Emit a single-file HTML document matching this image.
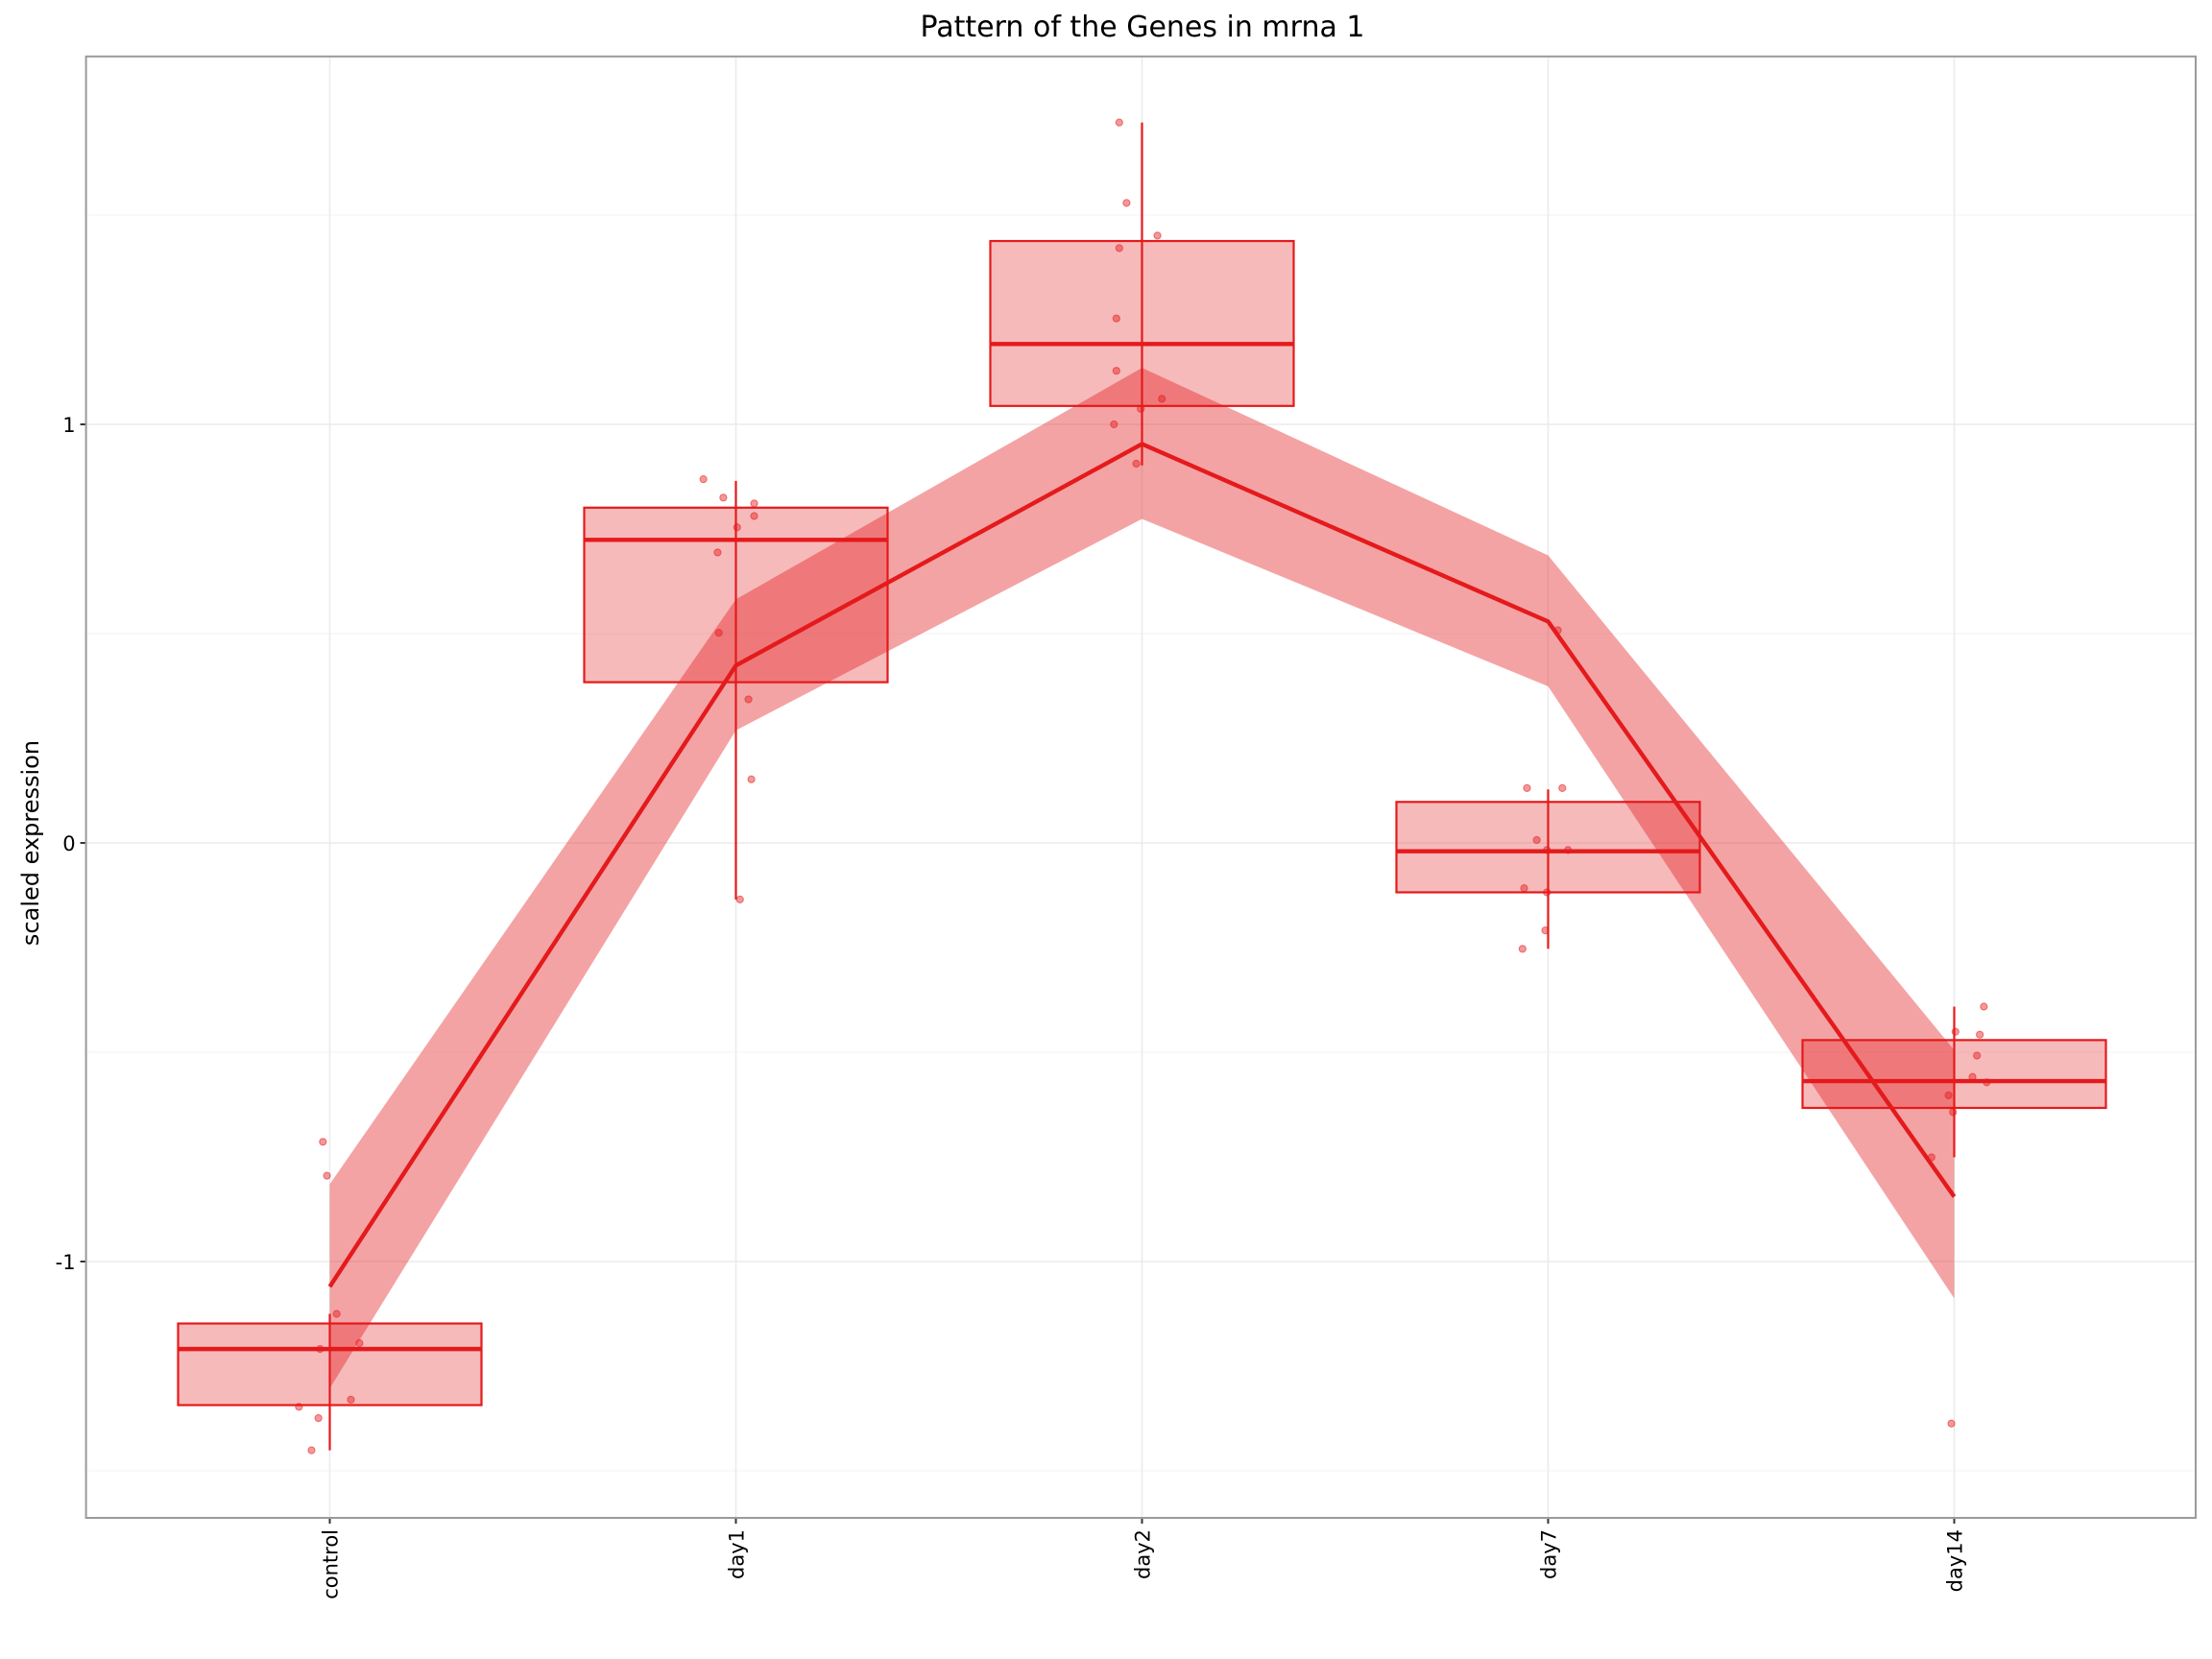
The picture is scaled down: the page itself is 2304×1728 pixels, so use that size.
<!DOCTYPE html>
<html><head><meta charset="utf-8"><style>
html,body{margin:0;padding:0;background:#fff;}
svg{display:block;font-family:"DejaVu Sans","Liberation Sans",sans-serif;}
</style></head><body>
<svg id="chart" width="2304" height="1728" viewBox="0 0 2304 1728" xmlns="http://www.w3.org/2000/svg">
<rect x="0" y="0" width="2304" height="1728" fill="#fff"/>
<text x="1190" y="38" font-size="30" text-anchor="middle" fill="#000">Pattern of the Genes in mrna 1</text>
<text transform="translate(40,878) rotate(-90)" font-size="24" text-anchor="middle" fill="#000">scaled expression</text>
<g id="grid"></g><g id="marks"></g><g id="axes"></g>
<rect x="89.6" y="58.8" width="2197.4" height="1522.2" fill="none" stroke="#9a9a9a" stroke-width="2"/>
</svg>
<script>
const categories=["control","day1","day2","day7","day14"];
const boxQ1=[-1.343,0.384,1.044,-0.118,-0.633];
const boxMedian=[-1.209,0.724,1.192,-0.020,-0.569];
const boxQ3=[-1.148,0.801,1.438,0.098,-0.471];
const whiskerLow=[-1.451,-0.135,0.902,-0.253,-0.751];
const whiskerHigh=[-1.125,0.865,1.721,0.128,-0.391];
const trendMean=[-1.06,0.424,0.953,0.529,-0.845];
const trendUpper=[-0.815,0.582,1.135,0.687,-0.495];
const trendLower=[-1.303,0.269,0.774,0.374,-1.088];
const pointValues=[
[-0.714,-0.795,-1.125,-1.209,-1.195,-1.33,-1.347,-1.374,-1.451],
[0.869,0.825,0.811,0.754,0.781,0.694,0.502,0.343,0.152,-0.135],
[1.721,1.529,1.451,1.421,1.253,1.128,1.037,1.061,1.0,0.906],
[0.131,0.131,0.508,0.007,-0.017,-0.017,-0.108,-0.118,-0.209,-0.253],
[-0.391,-0.451,-0.458,-0.508,-0.559,-0.572,-0.603,-0.643,-0.751,-1.387]];
const pointJitter=[
[-0.017,-0.007,0.017,-0.024,0.073,0.052,-0.076,-0.028,-0.045],
[-0.08,-0.031,0.045,0.003,0.045,-0.045,-0.042,0.031,0.038,0.01],
[-0.056,-0.038,0.038,-0.056,-0.063,-0.063,-0.003,0.049,-0.069,-0.014],
[-0.052,0.035,0.024,-0.028,-0.003,0.049,-0.059,-0.003,-0.007,-0.063],
[0.073,0.003,0.063,0.056,0.045,0.08,-0.014,-0.003,-0.056,-0.007]];
const yTicks=[-1,0,1];
const yMinor=[-1.5,-0.5,0.5,1.5];

const NS="http://www.w3.org/2000/svg";
const RED="#E41A1C";
const X0=343.5,XSTEP=423;
function xs(i){return X0+i*XSTEP;}
function ys(v){return 878-v*436;}
function mk(parent,tag,attrs){const e=document.createElementNS(NS,tag);for(const k in attrs)e.setAttribute(k,attrs[k]);parent.appendChild(e);return e;}
const grid=document.getElementById('grid'),marks=document.getElementById('marks'),axes=document.getElementById('axes');
const PL=89.6,PR=2287,PT=58.8,PB=1581;

yMinor.forEach(v=>{const l=mk(grid,'line',{x1:PL,x2:PR,y1:ys(v),y2:ys(v),stroke:'#f5f5f5','stroke-width':1.2});

});
yTicks.forEach(v=>{const l=mk(grid,'line',{x1:PL,x2:PR,y1:ys(v),y2:ys(v),stroke:'#ebebeb','stroke-width':1.6});


const t=mk(axes,'line',{x1:PL-6,x2:PL,y1:ys(v),y2:ys(v),stroke:'#333','stroke-width':2});


const tx=mk(axes,'text',{x:PL-11,y:ys(v)+8,'font-size':21,'text-anchor':'end',fill:'#000'});tx.textContent=String(v);

});
categories.forEach((c,i)=>{const l=mk(grid,'line',{x1:xs(i),x2:xs(i),y1:PT,y2:PB,stroke:'#ebebeb','stroke-width':1.6});


const t=mk(axes,'line',{x1:xs(i),x2:xs(i),y1:PB,y2:PB+6,stroke:'#333','stroke-width':2});


const tx=mk(axes,'text',{transform:`translate(${xs(i)+8},${PB+12}) rotate(-90)`,'font-size':21,'text-anchor':'end',fill:'#000'});tx.textContent=c;

});

const HW=158;
categories.forEach((c,i)=>{const x=xs(i);
const w=mk(marks,'line',{x1:x,x2:x,y1:ys(whiskerLow[i]),y2:ys(whiskerHigh[i]),stroke:RED,'stroke-width':2.2});


const b=mk(marks,'rect',{x:x-HW,y:ys(boxQ3[i]),width:2*HW,height:ys(boxQ1[i])-ys(boxQ3[i]),fill:'rgba(228,26,28,0.3)',stroke:RED,'stroke-width':2.2});


const m=mk(marks,'line',{x1:x-HW,x2:x+HW,y1:ys(boxMedian[i]),y2:ys(boxMedian[i]),stroke:RED,'stroke-width':4.4});

});

let up=categories.map((c,i)=>xs(i)+','+ys(trendUpper[i]));
let lo=categories.map((c,i)=>xs(i)+','+ys(trendLower[i])).reverse();
const rib=mk(marks,'polygon',{points:up.concat(lo).join(' '),fill:'rgba(228,26,28,0.4)'});



pointValues.forEach((arr,i)=>arr.forEach((v,j)=>{const p=mk(marks,'circle',{cx:xs(i)+pointJitter[i][j]*XSTEP,cy:ys(v),r:3.6,fill:'rgba(228,26,28,0.45)',stroke:'rgba(228,26,28,0.55)','stroke-width':1});

}));

const tl=mk(marks,'polyline',{points:categories.map((c,i)=>xs(i)+','+ys(trendMean[i])).join(' '),fill:'none',stroke:RED,'stroke-width':4.4});


</script>
</body></html>
